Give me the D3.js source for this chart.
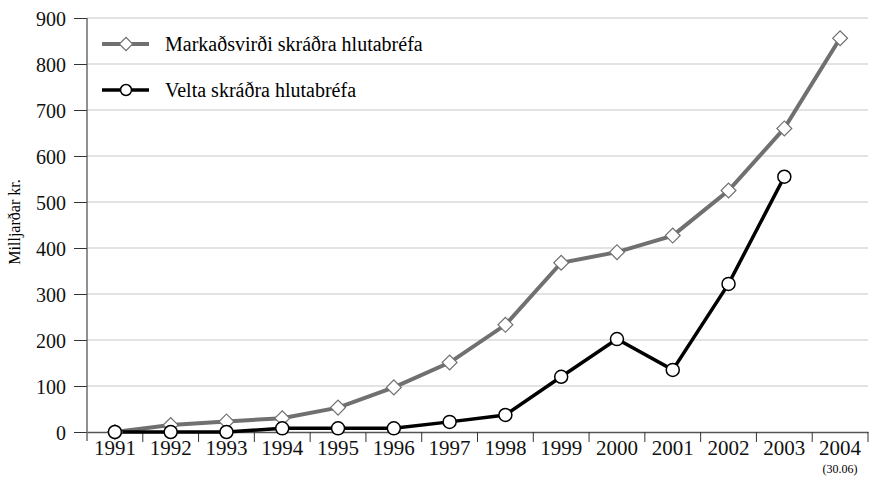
<!DOCTYPE html>
<html>
<head>
<meta charset="utf-8">
<script src="https://cdn.jsdelivr.net/npm/d3@7"></script>
<style>
  body { margin: 0; background: #fff; }
</style>
</head>
<body>
<svg id="chart" width="871" height="480"></svg>
<script>
"use strict"

let years = ["1991","1992","1993","1994","1995","1996","1997","1998","1999","2000","2001","2002","2003","2004"]
let markadsvirdi = [0, 15, 23, 30, 53, 97, 151, 233, 368, 391, 427, 525, 660, 856]
let velta = [0, 0, 0, 8, 8, 8, 22, 37, 120, 202, 135, 322, 555, null]
let yTicks = [0, 100, 200, 300, 400, 500, 600, 700, 800, 900]
let seriesNames = ["Markaðsvirði skráðra hlutabréfa", "Velta skráðra hlutabréfa"]

let serif = "'Liberation Serif', 'DejaVu Serif', serif"
let svg = d3.select("#chart")
let plotLeft = 87, plotRight = 868, plotTop = 18, plotBottom = 432

let x = d3.scaleBand().domain(years).range([plotLeft, plotRight])
let y = d3.scaleLinear().domain([0, 900]).range([plotBottom, plotTop])
let cx = function (d, i) { return x(years[i]) + x.bandwidth() / 2 }

// gridlines
svg.append("g").selectAll("line")
    .data(yTicks.slice(1))
    .enter().append("line")
    .attr("x1", plotLeft).attr("x2", plotRight)
    .attr("y1", d => y(d)).attr("y2", d => y(d))
    .attr("stroke", "#c8c8c8").attr("stroke-width", 1.2)

// y axis
let yAxis = svg.append("g")
    .attr("transform", "translate(" + plotLeft + ",0)")
    .call(d3.axisLeft(y).tickValues(yTicks).tickSize(13).tickPadding(8))
yAxis.select(".domain").remove()
yAxis.selectAll("line").attr("stroke", "#333")
yAxis.selectAll("text")
    .style("font-family", serif).style("font-size", "20px").attr("fill", "#111")
    .attr("dy", "0.35em")
svg.append("line")
    .attr("x1", plotLeft).attr("x2", plotLeft).attr("y1", plotTop).attr("y2", plotBottom + 9)
    .attr("stroke", "#555").attr("stroke-width", 1.3)

// x axis
let xAxis = svg.append("g")
    .attr("transform", "translate(0," + plotBottom + ")")
    .call(d3.axisBottom(x).tickSize(0).tickPadding(8))
xAxis.select(".domain").attr("stroke", "#555").attr("stroke-width", 1.3)
xAxis.selectAll("text")
    .style("font-family", serif).style("font-size", "21px").attr("fill", "#111")
    .attr("dy", "0.71em")
svg.append("g").selectAll("line")
    .data(years.map(d => x(d)).concat([plotRight]).slice(1))
    .enter().append("line")
    .attr("x1", d => d).attr("x2", d => d)
    .attr("y1", plotBottom).attr("y2", plotBottom + 10)
    .attr("stroke", "#333").attr("stroke-width", 1)

svg.append("text")
    .attr("x", cx(null, 13)).attr("y", 473)
    .attr("text-anchor", "middle")
    .style("font-family", serif).style("font-size", "12px")
    .text("(30.06)")

svg.append("text")
    .attr("transform", "translate(20,222) rotate(-90)")
    .attr("text-anchor", "middle")
    .style("font-family", serif).style("font-size", "16px")
    .text("Milljarðar kr.")

// lines
let line = d3.line()
    .defined(d => d !== null)
    .x(cx)
    .y(d => y(d))

svg.append("path").datum(markadsvirdi)
    .attr("d", line).attr("fill", "none")
    .attr("stroke", "#707070").attr("stroke-width", 4)

svg.append("path").datum(velta)
    .attr("d", line).attr("fill", "none")
    .attr("stroke", "#000").attr("stroke-width", 3.5)

let diamond = d3.symbol().type(d3.symbolSquare).size(110)

svg.append("g").selectAll("path")
    .data(markadsvirdi)
    .enter().append("path")
    .attr("d", diamond)
    .attr("transform", (d, i) => "translate(" + cx(d, i) + "," + y(d) + ") rotate(45)")
    .attr("fill", "#fff").attr("stroke", "#707070").attr("stroke-width", 1.2)

svg.append("g").selectAll("circle")
    .data(velta.filter(d => d !== null))
    .enter().append("circle")
    .attr("cx", cx).attr("cy", d => y(d))
    .attr("r", 6.5)
    .attr("fill", "#fff").attr("stroke", "#000").attr("stroke-width", 1.5)

// legend
let legend = svg.append("g")
legend.append("line")
    .attr("x1", 102).attr("x2", 149).attr("y1", 44).attr("y2", 44)
    .attr("stroke", "#707070").attr("stroke-width", 4)
legend.append("path")
    .attr("d", d3.symbol().type(d3.symbolSquare).size(90))
    .attr("transform", "translate(126,44) rotate(45)")
    .attr("fill", "#fff").attr("stroke", "#707070").attr("stroke-width", 1.2)
legend.append("text")
    .attr("x", 165).attr("y", 44).attr("dy", "0.35em")
    .style("font-family", serif).style("font-size", "20px")
    .text(seriesNames[0])

legend.append("line")
    .attr("x1", 102).attr("x2", 149).attr("y1", 90).attr("y2", 90)
    .attr("stroke", "#000").attr("stroke-width", 3.5)
legend.append("circle")
    .attr("cx", 126).attr("cy", 90).attr("r", 5.5)
    .attr("fill", "#fff").attr("stroke", "#000").attr("stroke-width", 1.5)
legend.append("text")
    .attr("x", 165).attr("y", 90).attr("dy", "0.35em")
    .style("font-family", serif).style("font-size", "20px")
    .text(seriesNames[1])
</script>
</body>
</html>
